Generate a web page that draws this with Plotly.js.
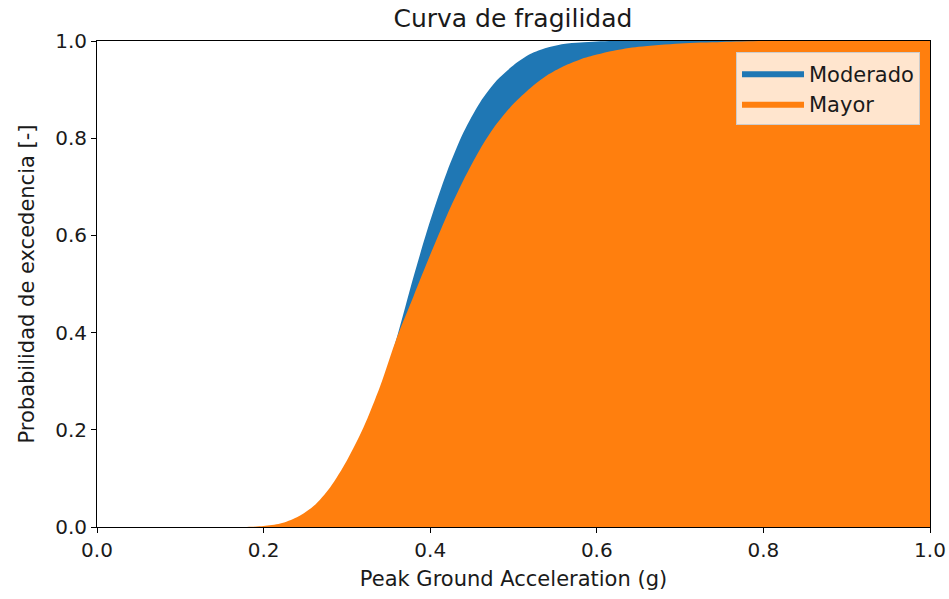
<!DOCTYPE html>
<html>
<head>
<meta charset="utf-8">
<script src="https://cdn.plot.ly/plotly-3.0.1.min.js"></script>
<style>
  html, body { margin: 0; padding: 0; background: #ffffff; }
  #chart { width: 949px; height: 599px; }
</style>
</head>
<body>
<div id="chart"></div>
<script>
// Peak ground acceleration (g)
const pga = [0.00, 0.05, 0.10, 0.15, 0.18, 0.20, 0.22, 0.24, 0.26, 0.28, 0.30, 0.32, 0.34,
             0.36, 0.38, 0.40, 0.42, 0.44, 0.46, 0.48, 0.50, 0.52, 0.54, 0.56, 0.58,
             0.60, 0.62, 0.65, 0.70, 0.75, 0.80, 0.90, 1.00];

// Probability of exceedance, "Moderado" damage state
const moderado = [0.000, 0.000, 0.000, 0.000, 0.000, 0.000, 0.001, 0.005, 0.017, 0.045, 0.096, 0.174, 0.278,
                  0.390, 0.515, 0.630, 0.730, 0.812, 0.874, 0.919, 0.950, 0.973, 0.986, 0.994, 0.997,
                  0.999, 1.000, 1.000, 1.000, 1.000, 1.000, 1.000, 1.000];

// Probability of exceedance, "Mayor" damage state
const mayor = [0.000, 0.000, 0.000, 0.000, 0.000, 0.002, 0.007, 0.020, 0.043, 0.082, 0.137, 0.205, 0.290,
               0.390, 0.475, 0.560, 0.641, 0.714, 0.778, 0.830, 0.871, 0.903, 0.929, 0.948, 0.962,
               0.972, 0.980, 0.988, 0.995, 0.998, 1.000, 1.000, 1.000];

const tickVals = [0, 0.2, 0.4, 0.6, 0.8, 1.0];
const tickText = ['0.0', '0.2', '0.4', '0.6', '0.8', '1.0'];

const font = 'DejaVu Sans, sans-serif';
const ink = '#1a1a1a';

const traces = [
  {
    x: pga, y: moderado, name: 'Moderado', type: 'scatter', mode: 'lines',
    fill: 'tozeroy', fillcolor: '#1f77b4',
    line: { color: '#1f77b4', width: 0, shape: 'spline', smoothing: 0.8 }
  },
  {
    x: pga, y: mayor, name: 'Mayor', type: 'scatter', mode: 'lines',
    fill: 'tozeroy', fillcolor: '#ff7f0e',
    line: { color: '#ff7f0e', width: 0, shape: 'spline', smoothing: 0.8 }
  }
];

const axisCommon = {
  showline: true, mirror: true, linecolor: '#000000', linewidth: 1,
  ticks: 'outside', ticklen: 5, tickwidth: 1, tickcolor: '#000000',
  showgrid: false, zeroline: false,
  tickfont: { family: font, size: 20, color: ink },
  tickvals: tickVals, ticktext: tickText
};

const layout = {
  width: 949, height: 599,
  margin: { l: 97, r: 19, t: 41, b: 72 },
  paper_bgcolor: '#ffffff', plot_bgcolor: '#ffffff',
  title: {
    text: 'Curva de fragilidad',
    font: { family: font, size: 25, color: ink },
    x: 0.5405, xanchor: 'center', y: 0.97, yanchor: 'middle'
  },
  xaxis: Object.assign({}, axisCommon, {
    range: [0, 1],
    title: { text: 'Peak Ground Acceleration (g)', font: { family: font, size: 21, color: ink }, standoff: 10 }
  }),
  yaxis: Object.assign({}, axisCommon, {
    range: [0, 1],
    title: { text: 'Probabilidad de excedencia [-]', font: { family: font, size: 21, color: ink }, standoff: 14 }
  }),
  showlegend: true,
  legend: {
    x: 0.988, xanchor: 'right', y: 0.977, yanchor: 'top',
    bgcolor: 'rgba(255,255,255,0.8)', bordercolor: '#cccccc', borderwidth: 1,
    font: { family: font, size: 21, color: ink },
    itemwidth: 62
  }
};

Plotly.newPlot('chart', traces, layout, { displayModeBar: false, staticPlot: true });
</script>
</body>
</html>
